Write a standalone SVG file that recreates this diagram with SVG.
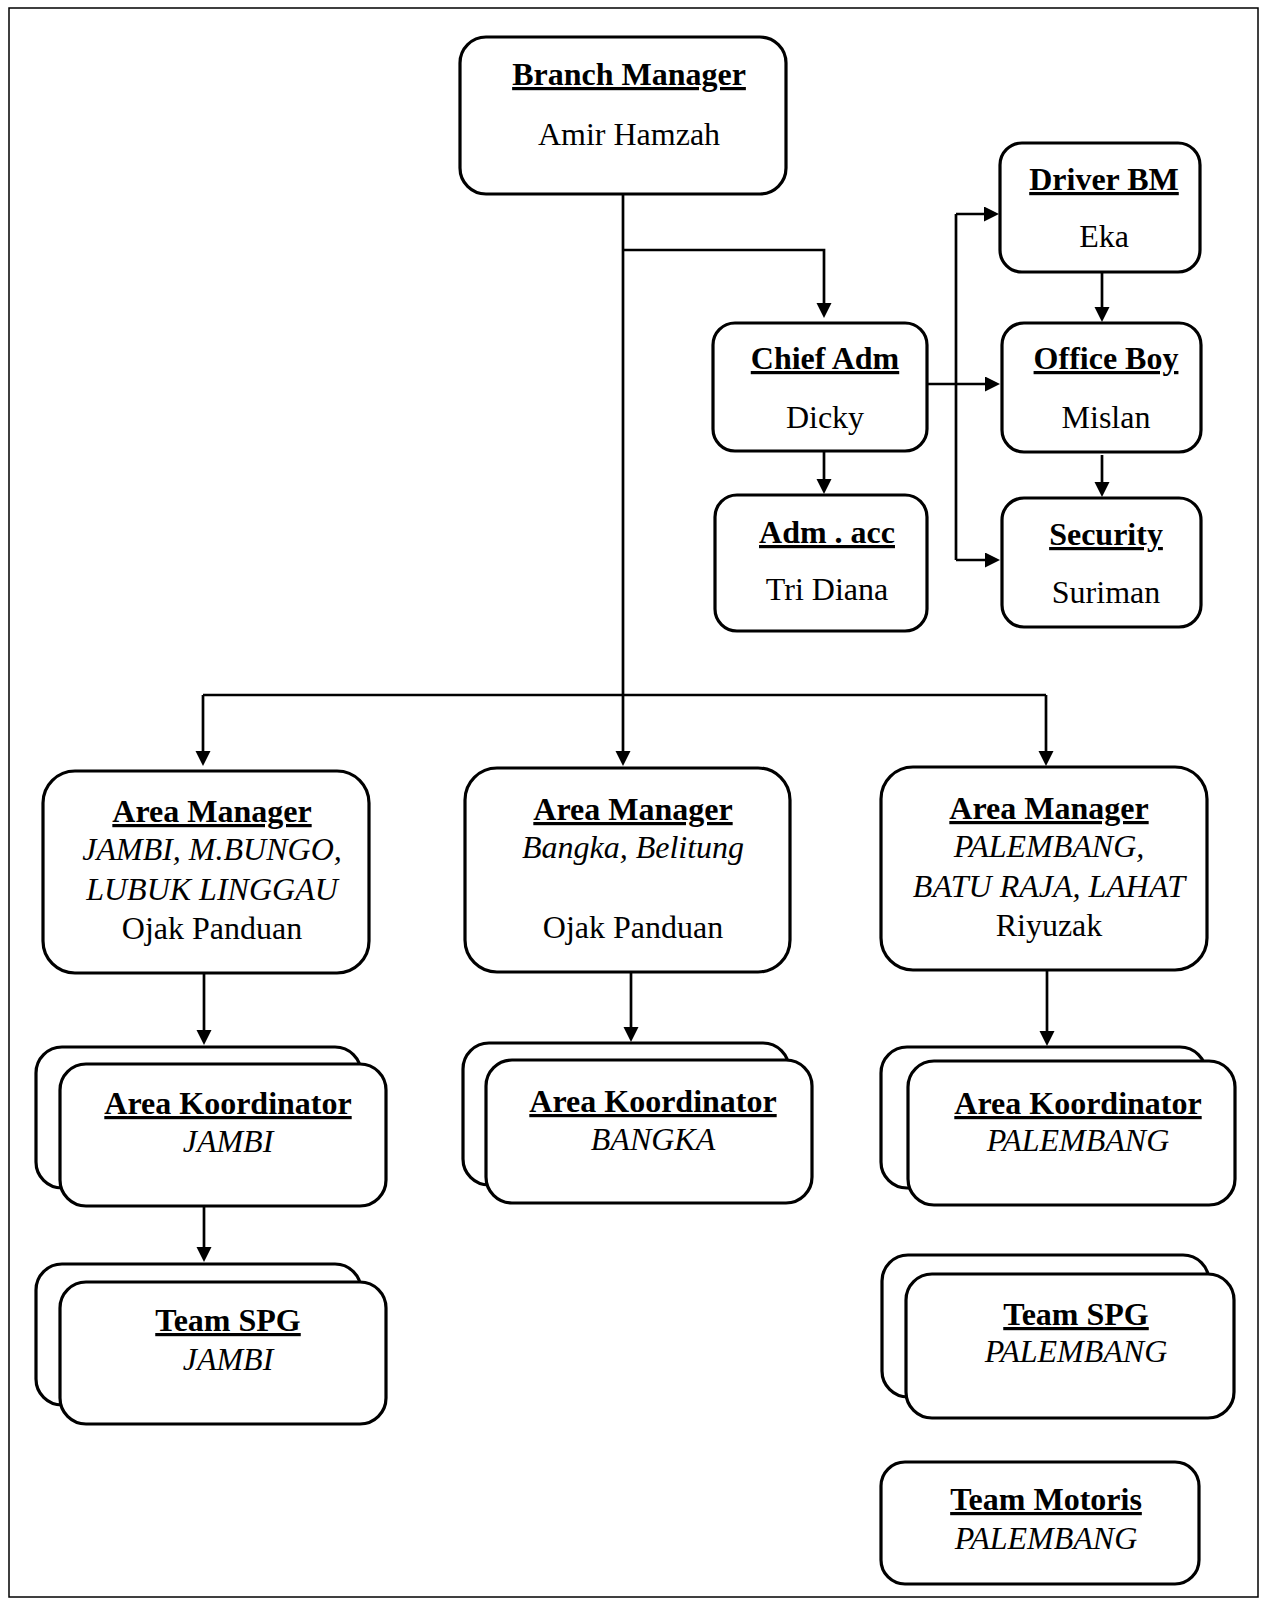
<svg xmlns="http://www.w3.org/2000/svg" width="1267" height="1600" viewBox="0 0 1267 1600">
<style>
text{font-family:"Liberation Serif","Times New Roman",serif;font-size:32px;text-anchor:middle;fill:#000}
.t{font-weight:bold;text-decoration:underline}
.i{font-style:italic}
.box{fill:#fff;stroke:#000;stroke-width:3.2}
.c{fill:none;stroke:#000;stroke-width:2.7}
.a{marker-end:url(#ah)}
</style>
<defs>
<marker id="ah" markerUnits="userSpaceOnUse" markerWidth="16" markerHeight="16" refX="5" refY="7.5" orient="auto">
<path d="M0,0 L15,7.5 L0,15 Z" fill="#000"/>
</marker>
</defs>
<rect x="9" y="8" width="1249" height="1589" fill="#fff" stroke="#000" stroke-width="1.5"/>
<g id="connectors">
<path class="c a" d="M623,194 V756"/>
<path class="c a" d="M623,250 H824 V308"/>
<path class="c" d="M203,695 H1046"/>
<path class="c a" d="M203,695 V756"/>
<path class="c a" d="M1046,695 V756"/>
<path class="c a" d="M824,451 V484"/>
<path class="c a" d="M927,384 H990"/>
<path class="c" d="M956,214 V560"/>
<path class="c a" d="M956,214 H989"/>
<path class="c a" d="M956,560 H990"/>
<path class="c a" d="M1102,272 V312"/>
<path class="c a" d="M1102,455 V487"/>
<path class="c a" d="M204,973 V1035"/>
<path class="c a" d="M204,1206 V1252"/>
<path class="c a" d="M631,972 V1032"/>
<path class="c a" d="M1047,970 V1036"/>
</g>
<g id="branch-manager">
<rect class="box" x="460" y="37" width="326" height="157" rx="26"/>
<text class="t" x="629" y="85">Branch Manager</text>
<text x="629" y="145">Amir Hamzah</text>
</g>
<g id="driver-bm">
<rect class="box" x="1000" y="143" width="200" height="129" rx="22"/>
<text class="t" x="1104" y="190">Driver BM</text>
<text x="1104" y="247">Eka</text>
</g>
<g id="chief-adm">
<rect class="box" x="713" y="323" width="214" height="128" rx="22"/>
<text class="t" x="825" y="369">Chief Adm</text>
<text x="825" y="428">Dicky</text>
</g>
<g id="office-boy">
<rect class="box" x="1002" y="323" width="199" height="129" rx="22"/>
<text class="t" x="1106" y="369">Office Boy</text>
<text x="1106" y="428">Mislan</text>
</g>
<g id="adm-acc">
<rect class="box" x="715" y="495" width="212" height="136" rx="22"/>
<text class="t" x="827" y="543">Adm . acc</text>
<text x="827" y="600">Tri Diana</text>
</g>
<g id="security">
<rect class="box" x="1002" y="498" width="199" height="129" rx="22"/>
<text class="t" x="1106" y="545">Security</text>
<text x="1106" y="603">Suriman</text>
</g>
<g id="area-manager-jambi">
<rect class="box" x="43" y="771" width="326" height="202" rx="32"/>
<text class="t" x="212" y="822">Area Manager</text>
<text class="i" x="212" y="860">JAMBI, M.BUNGO,</text>
<text class="i" x="212" y="900">LUBUK LINGGAU</text>
<text x="212" y="939">Ojak Panduan</text>
</g>
<g id="area-manager-bangka">
<rect class="box" x="465" y="768" width="325" height="204" rx="32"/>
<text class="t" x="633" y="820">Area Manager</text>
<text class="i" x="633" y="858">Bangka, Belitung</text>
<text x="633" y="938">Ojak Panduan</text>
</g>
<g id="area-manager-palembang">
<rect class="box" x="881" y="767" width="326" height="203" rx="32"/>
<text class="t" x="1049" y="819">Area Manager</text>
<text class="i" x="1049" y="857">PALEMBANG,</text>
<text class="i" x="1049" y="897">BATU RAJA, LAHAT</text>
<text x="1049" y="936">Riyuzak</text>
</g>
<g id="area-koordinator-jambi">
<rect class="box" x="36" y="1047" width="325" height="141" rx="26"/>
<rect class="box" x="60" y="1064" width="326" height="142" rx="26"/>
<text class="t" x="228" y="1114">Area Koordinator</text>
<text class="i" x="228" y="1152">JAMBI</text>
</g>
<g id="team-spg-jambi">
<rect class="box" x="36" y="1264" width="325" height="141" rx="26"/>
<rect class="box" x="60" y="1282" width="326" height="142" rx="26"/>
<text class="t" x="228" y="1331">Team SPG</text>
<text class="i" x="228" y="1370">JAMBI</text>
</g>
<g id="area-koordinator-bangka">
<rect class="box" x="463" y="1043" width="326" height="142" rx="26"/>
<rect class="box" x="486" y="1060" width="326" height="143" rx="26"/>
<text class="t" x="653" y="1112">Area Koordinator</text>
<text class="i" x="653" y="1150">BANGKA</text>
</g>
<g id="area-koordinator-palembang">
<rect class="box" x="881" y="1047" width="325" height="141" rx="26"/>
<rect class="box" x="908" y="1061" width="327" height="144" rx="26"/>
<text class="t" x="1078" y="1114">Area Koordinator</text>
<text class="i" x="1078" y="1151">PALEMBANG</text>
</g>
<g id="team-spg-palembang">
<rect class="box" x="882" y="1255" width="327" height="142" rx="26"/>
<rect class="box" x="906" y="1274" width="328" height="144" rx="26"/>
<text class="t" x="1076" y="1325">Team SPG</text>
<text class="i" x="1076" y="1362">PALEMBANG</text>
</g>
<g id="team-motoris-palembang">
<rect class="box" x="881" y="1462" width="318" height="122" rx="24"/>
<text class="t" x="1046" y="1510">Team Motoris</text>
<text class="i" x="1046" y="1549">PALEMBANG</text>
</g>
</svg>
